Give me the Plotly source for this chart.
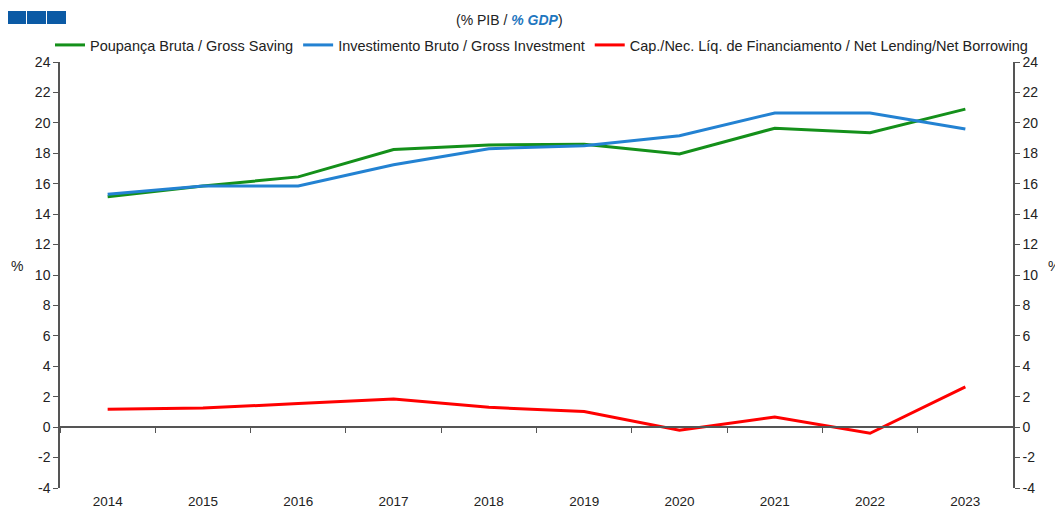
import plotly.graph_objects as go

years = ["2014", "2015", "2016", "2017", "2018", "2019", "2020", "2021", "2022", "2023"]
gross_saving = [15.15, 15.85, 16.45, 18.25, 18.55, 18.6, 17.95, 19.65, 19.35, 20.9]
gross_investment = [15.3, 15.85, 15.85, 17.25, 18.3, 18.5, 19.15, 20.65, 20.65, 19.6]
net_lending = [1.18, 1.25, 1.55, 1.85, 1.3, 1.03, -0.2, 0.66, -0.4, 2.65]
y_ticks = [-4, -2, 0, 2, 4, 6, 8, 10, 12, 14, 16, 18, 20, 22, 24]
y_tick_labels = ["-4", "-2", "0", "2", "4", "6", "8", "10", "12", "14", "16", "18", "20", "22", "24"]

# the page puts the figure 8px in from the top-left corner
OFF = 8
W, H = 1063 - OFF, 510 - OFF
L, T = 60 - OFF, 62 - OFF
R, B = W - (1013 - OFF), H - (488 - OFF)
PW, PH = W - L - R, H - T - B

def px(x):
    return (x - OFF - L) / PW

def py(y):
    return (H - B - (y - OFF)) / PH

FONT = "Liberation Sans, Arial, sans-serif"
AX = "#555555"

fig = go.Figure()
fig.add_trace(go.Scatter(x=years, y=gross_saving, mode="lines", name="Poupança Bruta / Gross Saving",
                         line=dict(color="#14901a", width=3)))
fig.add_trace(go.Scatter(x=years, y=gross_investment, mode="lines", name="Investimento Bruto / Gross Investment",
                         line=dict(color="#2382d2", width=3)))
fig.add_trace(go.Scatter(x=years, y=net_lending, mode="lines",
                         name="Cap./Nec. Líq. de Financiamento / Net Lending/Net Borrowing",
                         line=dict(color="#ff0000", width=3)))
# invisible helper trace for the secondary axes (zero-line ticks and right axis)
fig.add_trace(go.Scatter(x=years, y=net_lending, mode="lines", xaxis="x2", yaxis="y2",
                         line=dict(color="rgba(0,0,0,0)"), showlegend=False, hoverinfo="skip"))

fig.update_layout(
    width=W, height=H,
    margin=dict(l=L, r=R, t=T, b=B, autoexpand=False),
    plot_bgcolor="white", paper_bgcolor="white",
    font=dict(family=FONT, size=14, color="#222222"),
    showlegend=True,
    legend=dict(orientation="h", x=px(50), xanchor="left", y=py(45), yanchor="middle",
                font=dict(size=14.5, color="#222222"), itemwidth=30, tracegroupgap=0,
                bgcolor="rgba(0,0,0,0)"),
    xaxis=dict(type="category", categoryorder="array", categoryarray=years, range=[-0.5, 9.5],
               showline=False, showgrid=False, zeroline=False, ticks="outside", ticklen=1,
               tickcolor="rgba(0,0,0,0)", tickfont=dict(size=13.5), automargin=False),
    xaxis2=dict(type="category", categoryorder="array", categoryarray=years, range=[-0.5, 9.5],
                overlaying="x", anchor="free", position=4 / 28, side="bottom",
                showline=True, linecolor=AX, linewidth=1.5, showgrid=False, zeroline=False,
                ticks="outside", tickson="boundaries", ticklen=5, tickcolor=AX, tickwidth=1.2,
                showticklabels=False),
    yaxis=dict(range=[-4, 24], tickvals=y_ticks, ticktext=y_tick_labels, showgrid=False, zeroline=False,
               showline=True, linecolor=AX, linewidth=1.5, ticks="outside", ticklen=5,
               tickcolor=AX, tickwidth=1.2, tickfont=dict(size=14), automargin=False),
    yaxis2=dict(range=[-4, 24], tickvals=y_ticks, ticktext=y_tick_labels, overlaying="y", side="right",
                anchor="x2", showgrid=False, zeroline=False, showline=True, linecolor=AX, linewidth=1.5,
                ticks="outside", ticklen=5, tickcolor=AX, tickwidth=1.2, tickfont=dict(size=14),
                automargin=False),
)

fig.add_annotation(text="(% PIB / <b><i><span style='color:#1f77c0'>% GDP</span></i></b>)",
                   x=px(509), y=py(20), xref="paper", yref="paper", showarrow=False,
                   xanchor="center", yanchor="middle", font=dict(size=14, color="#222222"))
fig.add_annotation(text="%", x=px(17), y=py(266), xref="paper", yref="paper", showarrow=False,
                   xanchor="center", yanchor="middle", font=dict(size=14))
fig.add_annotation(text="%", x=px(1054), y=py(266), xref="paper", yref="paper", showarrow=False,
                   xanchor="center", yanchor="middle", font=dict(size=14))

for x0, x1 in [(8, 26), (27, 46), (47, 66)]:
    fig.add_shape(type="rect", xref="paper", yref="paper", x0=px(x0), x1=px(x1), y0=py(24), y1=py(11),
                  fillcolor="#0b5aa5", line=dict(width=0))

fig.write_html("out.html")
